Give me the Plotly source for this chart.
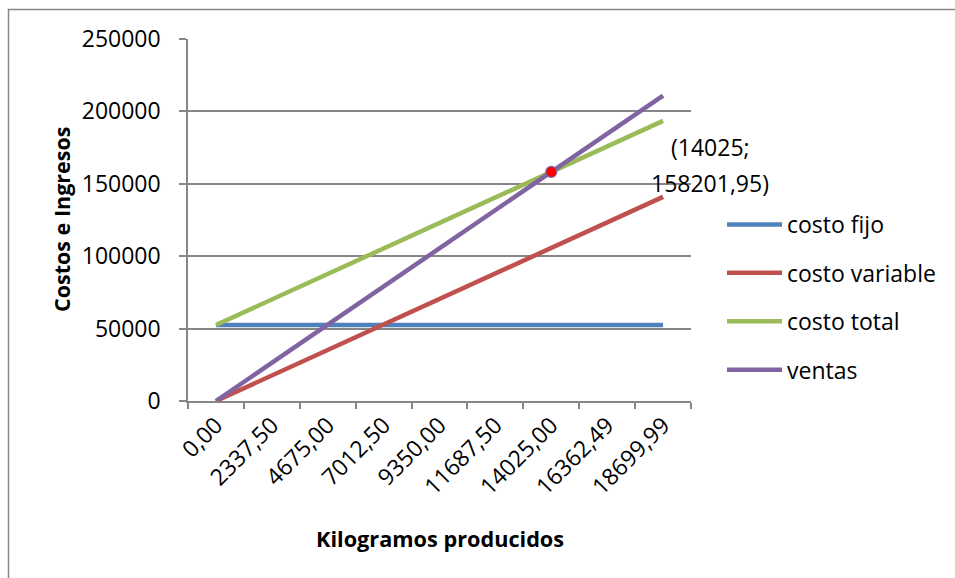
import plotly.graph_objects as go

# Kilograms produced (category labels on the x axis)
kilogramos = ["0,00", "2337,50", "4675,00", "7012,50", "9350,00",
              "11687,50", "14025,00", "16362,49", "18699,99"]

# Series values per production level
costo_fijo = [52500, 52500, 52500, 52500, 52500, 52500, 52500, 52500, 52500]
costo_variable = [0, 17617, 35234, 52851, 70468, 88085, 105702, 123319, 140936]
costo_total = [52500, 70117, 87734, 105351, 122968, 140585, 158202, 175819, 193436]
ventas = [0, 26367, 52734, 79101, 105468, 131835, 158202, 184569, 210936]

# Break-even point
equilibrio_x = ["14025,00"]
equilibrio_y = [158201.95]
equilibrio_texto = ["(14025;", "158201,95)"]

FONT = "Open Sans"
W, H = 955, 578
L, R, T, B = 188, 691, 39, 401   # plot area in pixels

def px_x(p):
    return (p - L) / (R - L)

def px_y(p):
    return (B - p) / (B - T)

series = [
    ("costo fijo", costo_fijo, "#4F81BD"),
    ("costo variable", costo_variable, "#C0504D"),
    ("costo total", costo_total, "#9BBB59"),
    ("ventas", ventas, "#8064A2"),
]

fig = go.Figure()
for i, (name, vals, color) in enumerate(series):
    fig.add_trace(go.Scatter(
        x=kilogramos, y=vals, name=name, mode="lines",
        line=dict(color=color, width=4.5),
        legendgroup=f"g{i}",
    ))

fig.add_trace(go.Scatter(
    x=equilibrio_x, y=equilibrio_y, mode="markers", showlegend=False,
    marker=dict(color="#FF0000", size=11, line=dict(color="#8064A2", width=1.2)),
))

# Break-even label, one annotation per line
for k, linea in enumerate(equilibrio_texto):
    fig.add_annotation(
        x=px_x(710), y=px_y(147 + 36 * k), xref="paper", yref="paper",
        xanchor="center", yanchor="middle",
        text=linea, showarrow=False,
        font=dict(family=FONT, size=23, color="#000000"),
    )

# Axis titles
fig.add_annotation(
    x=px_x(440), y=px_y(538), xref="paper", yref="paper",
    xanchor="center", yanchor="middle",
    text="<b>Kilogramos producidos</b>", showarrow=False,
    font=dict(family=FONT, size=21.7, color="#000000"),
)
fig.add_annotation(
    x=px_x(61), y=px_y(220), xref="paper", yref="paper",
    xanchor="center", yanchor="middle",
    text="<b>Costos e Ingresos</b>", showarrow=False, textangle=-90,
    font=dict(family=FONT, size=21.5, color="#000000"),
)

# Chart-area border (runs off the right and bottom edges)
fig.add_shape(
    type="rect", xref="paper", yref="paper",
    x0=px_x(8.5), x1=px_x(980), y0=px_y(600), y1=px_y(9.5),
    line=dict(color="#868686", width=1.5), fillcolor="rgba(0,0,0,0)",
    layer="below",
)

fig.update_layout(
    width=W, height=H,
    margin=dict(l=L, r=W - R, t=T, b=H - B, pad=0),
    paper_bgcolor="white", plot_bgcolor="white",
    font=dict(family=FONT, size=22, color="#000000"),
    legend=dict(
        x=px_x(722), y=px_y(203), xanchor="left", yanchor="top",
        font=dict(family=FONT, size=23), tracegroupgap=15.5, itemwidth=55,
        bgcolor="rgba(0,0,0,0)",
    ),
)

fig.update_xaxes(
    type="category", range=[-0.5, 8.5],
    tickangle=-45, tickson="boundaries", ticks="outside", ticklen=6,
    tickcolor="#868686", tickwidth=1.5,
    showline=True, linecolor="#868686", linewidth=1.5,
    showgrid=False, zeroline=False,
    tickfont=dict(family=FONT, size=23),
)
fig.update_yaxes(
    range=[0, 250000], dtick=50000, tickformat="d",
    ticks="outside", ticklen=7, tickcolor="#868686", tickwidth=1.5,
    ticklabelstandoff=14,
    showline=True, linecolor="#868686", linewidth=1.5,
    showgrid=True, gridcolor="#868686", gridwidth=1.5,
    zeroline=False,
    tickfont=dict(family=FONT, size=23),
)

fig.write_html("out.html")
